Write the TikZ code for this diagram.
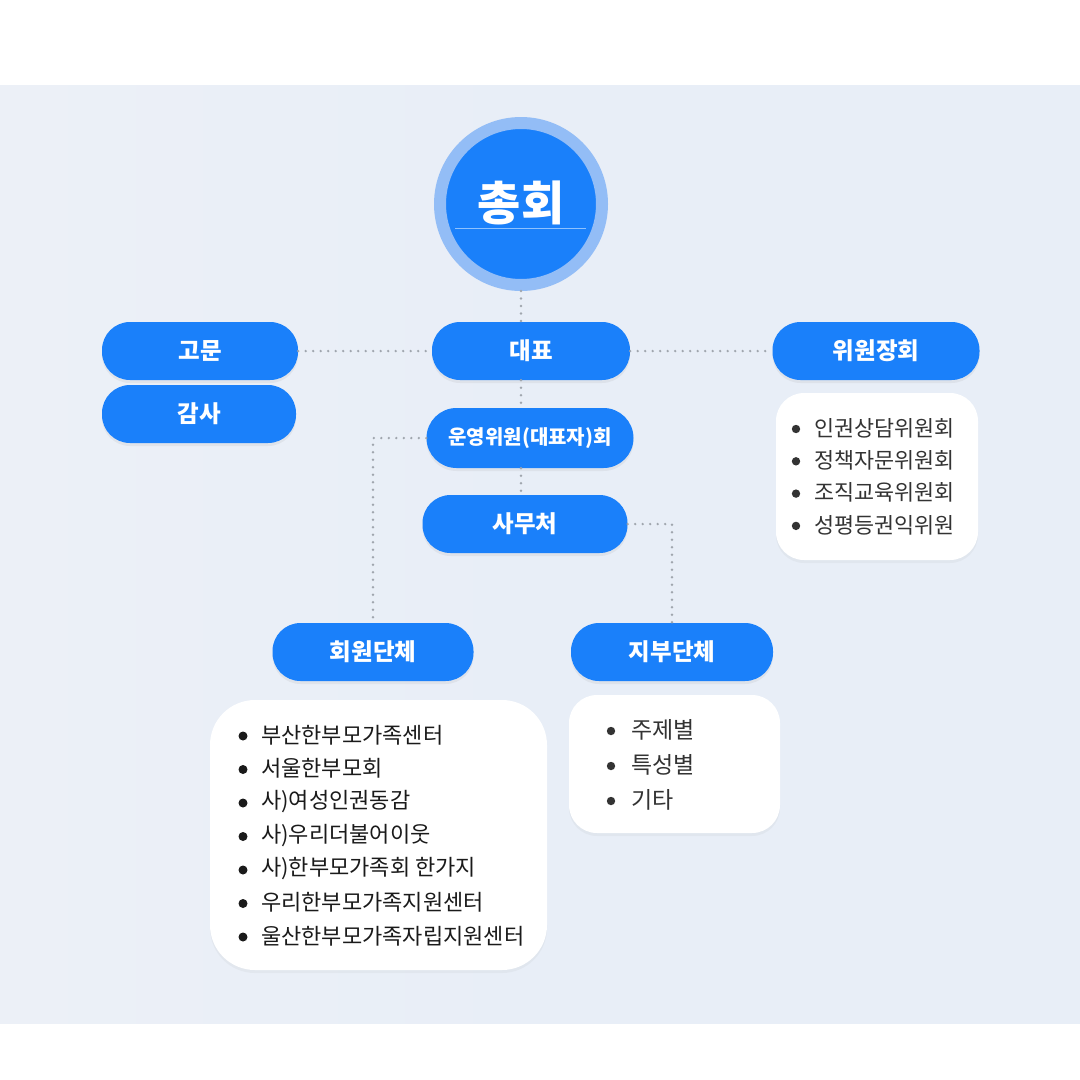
\documentclass[tikz,border=0pt]{standalone}
\usepackage{fontspec}
\setmainfont{Noto Sans CJK KR}
\usetikzlibrary{shadows}
\definecolor{bg}{HTML}{E8EEF7}
\definecolor{bgl}{HTML}{ECF0F7}
\definecolor{pillblue}{HTML}{1A80FA}
\definecolor{ringblue}{HTML}{93BDF6}
\definecolor{linelight}{HTML}{8EC2FF}
\definecolor{dotgray}{HTML}{A0A6AE}
\definecolor{txt}{HTML}{1A1A1A}
\definecolor{txtb}{HTML}{333333}
\tikzset{
  pill/.style={fill=pillblue, rounded corners=28pt, text=white, inner sep=0pt,
    font=\bfseries\fontsize{23.5}{26}\selectfont, minimum height=58pt,
    drop shadow={opacity=0.10, shadow xshift=0pt, shadow yshift=-3pt}},
  listbox/.style={fill=white, inner sep=0pt,
    drop shadow={opacity=0.07, shadow xshift=0pt, shadow yshift=-3pt}},
  conn/.style={dotgray, line width=2.6pt, dash pattern=on 0pt off 7.5pt, line cap=round},
  item/.style={anchor=west, inner sep=0pt},
}
\begin{document}
\begin{tikzpicture}[x=1pt,y=-1pt]
\useasboundingbox (0,0) rectangle (1080,1080);
\fill[white] (0,0) rectangle (1080,1080);
\shade[left color=bgl, right color=bg, middle color=bg] (0,85) rectangle (1080,1023);

% nodes
\node[circle, fill=pillblue, draw=ringblue, line width=12pt, minimum size=162pt, inner sep=0pt] (gm) at (521,204) {};
\node[text=white, font=\bfseries\fontsize{47}{52}\selectfont, inner sep=0pt] (gmt) at (521,203) {총회};
\draw[linelight, line width=1pt] (455,228) -- (586,228);

\node[pill, minimum width=198pt] (rep) at (531,351) {대표};
\node[pill, minimum width=196pt] (adv) at (200,351) {고문};
\node[pill, minimum width=194pt] (aud) at (199,414) {감사};
\node[pill, minimum width=207pt, minimum height=60pt, rounded corners=30pt, font=\bfseries\fontsize{20}{22}\selectfont] (op) at (530,438) {운영위원(대표자)회};
\node[pill, minimum width=205pt] (sec) at (525,524) {사무처};
\node[pill, minimum width=207pt] (chair) at (876,351) {위원장회};
\node[pill, minimum width=201pt] (mem) at (373,652) {회원단체};
\node[pill, minimum width=202pt] (br) at (672,652) {지부단체};

% list boxes
\node[listbox, rounded corners=28pt, minimum width=202pt, minimum height=167pt] (chairlist) at (877,476.5) {};
\node[listbox, rounded corners=45pt, minimum width=337pt, minimum height=270pt] (memlist) at (378.5,835) {};
\node[listbox, rounded corners=28pt, minimum width=211pt, minimum height=138pt] (brlist) at (674.5,764) {};

% connectors
\draw[conn] (gm.south) -- (rep.north -| gm.south);
\draw[conn] (adv.east) -- (rep.west);
\draw[conn] (rep.east) -- (chair.west);
\draw[conn] (rep.south -| gm.south) -- (op.north -| gm.south);
\draw[conn] (op.south -| gm.south) -- (sec.north -| gm.south);
\draw[conn] (op.west) -| (mem.north);
\draw[conn] (sec.east) -| (br.north);

% chair list
\foreach \t [count=\i] in {인권상담위원회, 정책자문위원회, 조직교육위원회, 성평등권익위원}{
  \fill[txtb] (796,{429+32.3*(\i-1)}) circle (4.2pt);
  \node[item, text=txtb, font=\fontsize{21.8}{24}\selectfont] (c\i) at (814,{428+32.3*(\i-1)}) {\t};
}
% member list
\foreach \t [count=\i] in {부산한부모가족센터, 서울한부모회, 사)여성인권동감, 사)우리더불어이웃, 사)한부모가족회 한가지, 우리한부모가족지원센터, 울산한부모가족자립지원센터}{
  \fill[txt] (243,{736+33.5*(\i-1)}) circle (4.5pt);
  \node[item, text=txt, font=\fontsize{22}{24}\selectfont] (m\i) at (261,{735+33.5*(\i-1)}) {\t};
}
% branch list
\foreach \t [count=\i] in {주제별, 특성별, 기타}{
  \fill[txtb] (611,{731+35*(\i-1)}) circle (4.2pt);
  \node[item, text=txtb, font=\fontsize{23}{25}\selectfont] (b\i) at (631,{730+35*(\i-1)}) {\t};
}
\end{tikzpicture}
\end{document}
